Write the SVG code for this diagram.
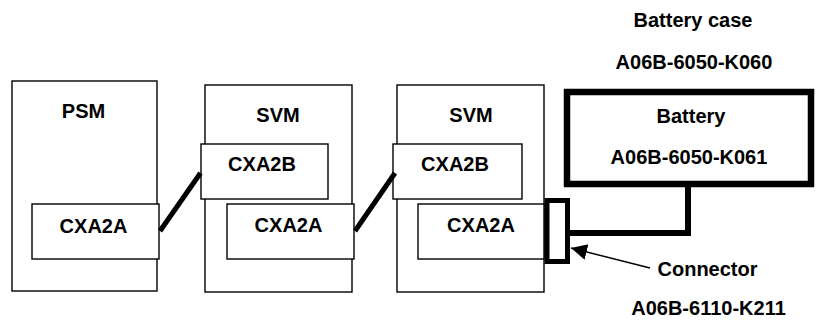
<svg xmlns="http://www.w3.org/2000/svg" width="816" height="320" viewBox="0 0 816 320">
<style>
text{font-family:"Liberation Sans",Arial,sans-serif;font-weight:bold;font-size:20px;fill:#000;text-anchor:middle}
.box{fill:#fff;stroke:#000;stroke-width:1.4}
.thick{fill:none;stroke:#000;stroke-width:5}
</style>
<defs>
<marker id="ah" markerUnits="userSpaceOnUse" markerWidth="20" markerHeight="20" refX="16" refY="8" orient="auto">
<path d="M0,0 L16,8 L0,16 Z" fill="#000"/>
</marker>
</defs>
<rect width="816" height="320" fill="#fff"/>
<g id="psm">
<rect class="box" x="12" y="81" width="145" height="210"/>
<text x="83.5" y="118">PSM</text>
</g>
<g id="psm-cxa2a">
<rect class="box" x="32" y="204" width="127" height="55"/>
<text x="93.5" y="233">CXA2A</text>
</g>
<g id="svm1">
<rect class="box" x="205" y="85" width="147" height="207"/>
<text x="278" y="122">SVM</text>
</g>
<g id="svm1-cxa2b">
<rect class="box" x="201" y="144" width="127" height="55"/>
<text x="262" y="171">CXA2B</text>
</g>
<g id="svm1-cxa2a">
<rect class="box" x="227" y="204" width="127" height="55"/>
<text x="288.5" y="232">CXA2A</text>
</g>
<g id="svm2">
<rect class="box" x="397" y="85" width="147" height="207"/>
<text x="471" y="122">SVM</text>
</g>
<g id="svm2-cxa2b">
<rect class="box" x="393" y="144" width="129" height="55"/>
<text x="455" y="171">CXA2B</text>
</g>
<g id="svm2-cxa2a">
<rect class="box" x="418" y="204" width="126" height="55"/>
<text x="481" y="232">CXA2A</text>
</g>
<g id="battery-case">
<text x="693" y="27">Battery case</text>
<text x="694" y="69">A06B-6050-K060</text>
</g>
<g id="battery">
<rect x="567" y="92" width="244" height="92" fill="#fff" stroke="#000" stroke-width="6.5"/>
<text x="691" y="123">Battery</text>
<text x="689" y="164">A06B-6050-K061</text>
</g>
<g id="connector">
<rect class="thick" x="547" y="200.5" width="20.5" height="61" stroke-width="5.5"/>
<text x="707.5" y="276">Connector</text>
<text x="708.5" y="315">A06B-6110-K211</text>
</g>
<g id="connectors">
<line x1="160" y1="231" x2="200.5" y2="173" stroke="#000" stroke-width="5"/>
<line x1="355" y1="231" x2="395" y2="173" stroke="#000" stroke-width="5"/>
<polyline points="688,184 688,233 569,233" fill="none" stroke="#000" stroke-width="6"/>
<line x1="650" y1="268" x2="571" y2="248" stroke="#000" stroke-width="1.5" marker-end="url(#ah)"/>
</g>
</svg>
